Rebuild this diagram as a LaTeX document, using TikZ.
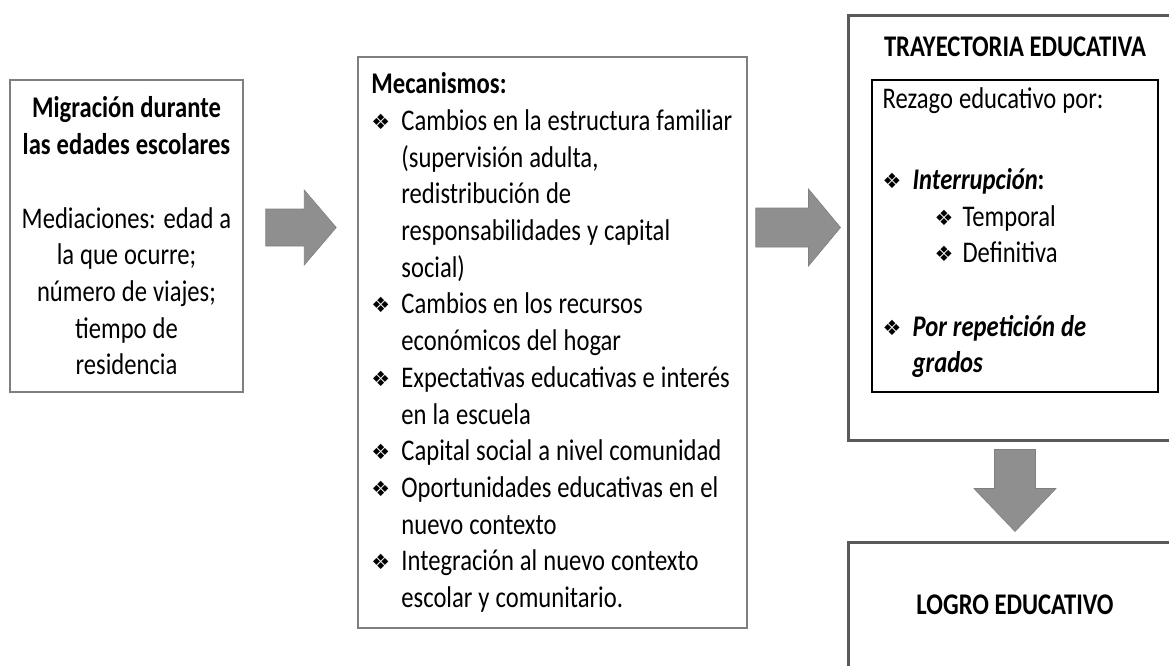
\documentclass[tikz,border=0pt]{standalone}
\usepackage{fontspec}
\setmainfont{Carlito}[FakeStretch=0.82]
\newfontfamily\symfont{DejaVu Sans}
\usetikzlibrary{calc}
\definecolor{boxgray}{HTML}{7F7F7F}
\definecolor{framegray}{HTML}{595959}
\definecolor{arrowgray}{HTML}{8F8F8F}
\tikzstyle{lightbox}=[draw=boxgray, line width=1.5pt, fill=white, inner sep=0pt]
\tikzstyle{heavybox}=[draw=framegray, line width=3pt, fill=white, inner sep=0pt]
\tikzstyle{innerbox}=[draw=black, line width=1.2pt, inner sep=0pt]
\tikzstyle{fatarrow}=[fill=arrowgray, draw=boxgray, line width=0.6pt]
\tikzstyle{listtext}=[inner sep=0pt, anchor=west, execute at begin node={\raggedright\spaceskip=6pt plus 2pt minus 1pt\hyphenpenalty=10000}]
\newcommand{\bul}{{\symfont\fontsize{21}{21}\selectfont\raisebox{1pt}{❖}}}
\newcommand{\nl}{\hfil\break}
\newcommand{\itm}[2][30pt]{\par\noindent\hangindent=#1\hangafter=1\makebox[#1][l]{\bul}#2\par}
% tail, tip, half shaft, half head, head length
\newcommand{\rightfat}[5]{\draw[fatarrow] let \p1=(#1), \p2=(#2) in
  (\x1,{\y1+#3}) -- ({\x2-#5},{\y1+#3}) -- ({\x2-#5},{\y1+#4}) -- (\x2,\y1)
  -- ({\x2-#5},{\y1-#4}) -- ({\x2-#5},{\y1-#3}) -- (\x1,{\y1-#3}) -- cycle;}
\newcommand{\downfat}[5]{\draw[fatarrow] let \p1=(#1), \p2=(#2) in
  ({\x1-#3},\y1) -- ({\x1-#3},{\y2+#5}) -- ({\x1-#4},{\y2+#5}) -- (\x1,\y2)
  -- ({\x1+#4},{\y2+#5}) -- ({\x1+#3},{\y2+#5}) -- ({\x1+#3},\y1) -- cycle;}
\begin{document}
\begin{tikzpicture}[x=1pt, y=-1pt, font=\fontsize{30}{36.7}\selectfont]
				\useasboundingbox (0,0) rectangle (1169,665);
				\clip (0,0) rectangle (1169,665);

				% Migration box
				\node[lightbox, minimum width=233pt, minimum height=312pt, align=center,
					execute at begin node={\spaceskip=6pt plus 2pt minus 1pt}] (mig) at (126.5,236)
					{\textbf{Migración durante}\\\textbf{las edades escolares}\\[36.7pt]Mediaciones: edad a\\la que ocurre;\\número de viajes;\\tiempo de\\residencia};

				% Mechanisms box
				\node[lightbox, minimum width=389pt, minimum height=571pt] (mec) at (552.5,342.5) {};
				\node[listtext, text width=400pt] (mectext) at ([xshift=14pt, yshift=0pt]mec.west) {%
					\noindent\textbf{Mecanismos:}
					\itm{Cambios en la estructura familiar\nl(supervisión adulta,\nl redistribución de\nl responsabilidades y capital\nl social)}
					\itm{Cambios en los recursos\nl económicos del hogar}
					\itm{Expectativas educativas e interés\nl en la escuela}
					\itm{Capital social a nivel comunidad}
					\itm{Oportunidades educativas en el\nl nuevo contexto}
					\itm{Integración al nuevo contexto\nl escolar y comunitario.}};

				% Trajectory
				\node[heavybox, minimum width=334pt, minimum height=425pt] (tray) at (1015,227.5) {};
				\node (traytitle) at ([yshift=-33pt]tray.north) {\textbf{TRAYECTORIA EDUCATIVA}};
				\node[innerbox, minimum width=286pt, minimum height=312pt] (rez) at (1015,236) {};
				\node[listtext, text width=280pt] (reztext) at ([xshift=11pt, yshift=3pt]rez.west) {%
					\noindent Rezago educativo por:\par\vspace{44pt}
					\itm{\textbf{\textit{Interrupción}:}}
					\noindent\hspace*{52pt}\makebox[28pt][l]{\bul}Temporal\par
					\noindent\hspace*{52pt}\makebox[28pt][l]{\bul}Definitiva\par
					\vspace{36.7pt}
					\itm{\textbf{\textit{Por repetición de\nl grados}}}};

				% Achievement
				\node[heavybox, minimum width=334pt, minimum height=126pt] (logro) at (1015,605) {\textbf{LOGRO EDUCATIVO}};

				% Block arrows
				\coordinate (a1tail) at ($(mig.east |- tray.west)+(22,0)$);
				\coordinate (a1tip) at ($(mec.west |- tray.west)+(-21,0)$);
				\coordinate (a2tail) at ($(mec.east |- tray.west)+(8,0)$);
				\coordinate (a2tip) at ($(tray.west)+(-6,0)$);
				\coordinate (a3tail) at ($(tray.south)+(0,8)$);
				\coordinate (a3tip) at ($(logro.north)+(0,-9)$);
				\rightfat{a1tail}{a1tip}{18.5pt}{37.5pt}{32pt}
				\rightfat{a2tail}{a2tip}{19.5pt}{38.5pt}{32pt}
				\downfat{a3tail}{a3tip}{20.5pt}{41pt}{43pt}
\end{tikzpicture}
\end{document}
